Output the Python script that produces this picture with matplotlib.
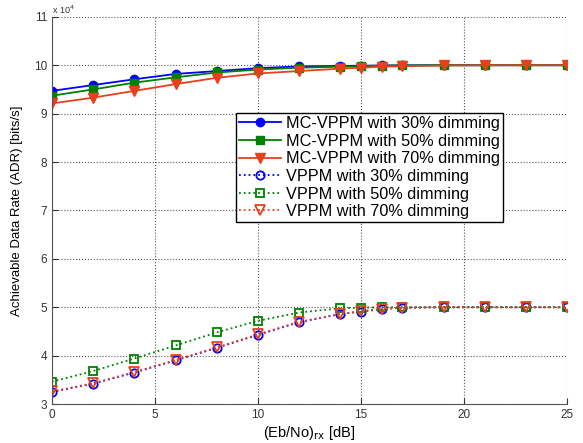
import matplotlib
matplotlib.use("Agg")
import matplotlib.pyplot as plt
from matplotlib.ticker import FuncFormatter

plt.rcParams['font.family'] = ['Liberation Sans', 'DejaVu Sans']

# Eb/No at the receiver [dB]
ebno = [0, 2, 4, 6, 8, 10, 12, 14, 15, 16, 17, 19, 21, 23, 25]

# achievable data rate [bits/s]
mc_30 = [94700, 95900, 97100, 98200, 98800, 99400, 99750, 99850, 99900, 99950, 99980, 100000, 100000, 100000, 100000]
mc_50 = [93700, 95000, 96400, 97500, 98500, 99100, 99500, 99700, 99800, 99900, 99950, 100000, 100000, 100000, 100000]
mc_70 = [92100, 93300, 94700, 96100, 97400, 98300, 98800, 99300, 99500, 99700, 99800, 99950, 100000, 100000, 100000]
vppm_30 = [32500, 34200, 36500, 39000, 41600, 44300, 46900, 48600, 49100, 49600, 49900, 50000, 50000, 50000, 50000]
vppm_50 = [34600, 36800, 39400, 42100, 44800, 47200, 48900, 49800, 49900, 50000, 50000, 50000, 50000, 50000, 50000]
vppm_70 = [32600, 34300, 36600, 39100, 41700, 44400, 47000, 48600, 49200, 49700, 49900, 50000, 50000, 50000, 50000]

labels = ['MC-VPPM with 30% dimming', 'MC-VPPM with 50% dimming', 'MC-VPPM with 70% dimming',
          'VPPM with 30% dimming', 'VPPM with 50% dimming', 'VPPM with 70% dimming']

blue = '#0000ff'
green = '#008000'
red = '#e8401c'

fig = plt.figure(figsize=(5.83, 4.43), dpi=100)
ax = fig.add_axes([0.089, 0.088, 0.884, 0.874])

ax.plot(ebno, mc_30, '-o', color=blue, lw=1.3, ms=6, label=labels[0])
ax.plot(ebno, mc_50, '-s', color=green, lw=1.3, ms=6, label=labels[1])
ax.plot(ebno, mc_70, '-v', color=red, lw=1.3, ms=7, label=labels[2])
ax.plot(ebno, vppm_30, ':o', color=blue, lw=1.3, ms=6, mfc='none', mew=1.3, label=labels[3])
ax.plot(ebno, vppm_50, ':s', color=green, lw=1.3, ms=6, mfc='none', mew=1.3, label=labels[4])
ax.plot(ebno, vppm_70, ':v', color=red, lw=1.3, ms=7, mfc='none', mew=1.3, label=labels[5])

ax.set_xlim(0, 25)
ax.set_ylim(30000, 110000)
ax.set_xticks([0, 5, 10, 15, 20, 25])
ax.set_yticks(range(30000, 110001, 10000))
ax.yaxis.set_major_formatter(FuncFormatter(lambda v, p: f"{v / 1e4:g}"))
ax.tick_params(direction='in', labelsize=8.5, colors='#333333', length=4)

ax.grid(True, linestyle=':', color='#555555', lw=0.8)
for s in ['top', 'right']:
    ax.spines[s].set_visible(False)
for s in ['left', 'bottom']:
    ax.spines[s].set_color('#555555')

ax.text(0.0, 1.003, r'x 10$^4$', transform=ax.transAxes, fontsize=6.5, color='#333333',
        ha='left', va='bottom')

ax.set_xlabel(r'(Eb/No)$_{\mathrm{rx}}$ [dB]', fontsize=10.5, labelpad=2)
ax.set_ylabel('Achievable Data Rate (ADR) [bits/s]', fontsize=9.5, labelpad=8)

ax.legend(loc='upper left', bbox_to_anchor=(0.357, 0.752), fontsize=11.7, frameon=True,
          fancybox=False, edgecolor='black', framealpha=1, borderpad=0.2,
          labelspacing=0.16, handlelength=2.6, handletextpad=0.3, borderaxespad=0)

fig.savefig('out.png', dpi=100)
